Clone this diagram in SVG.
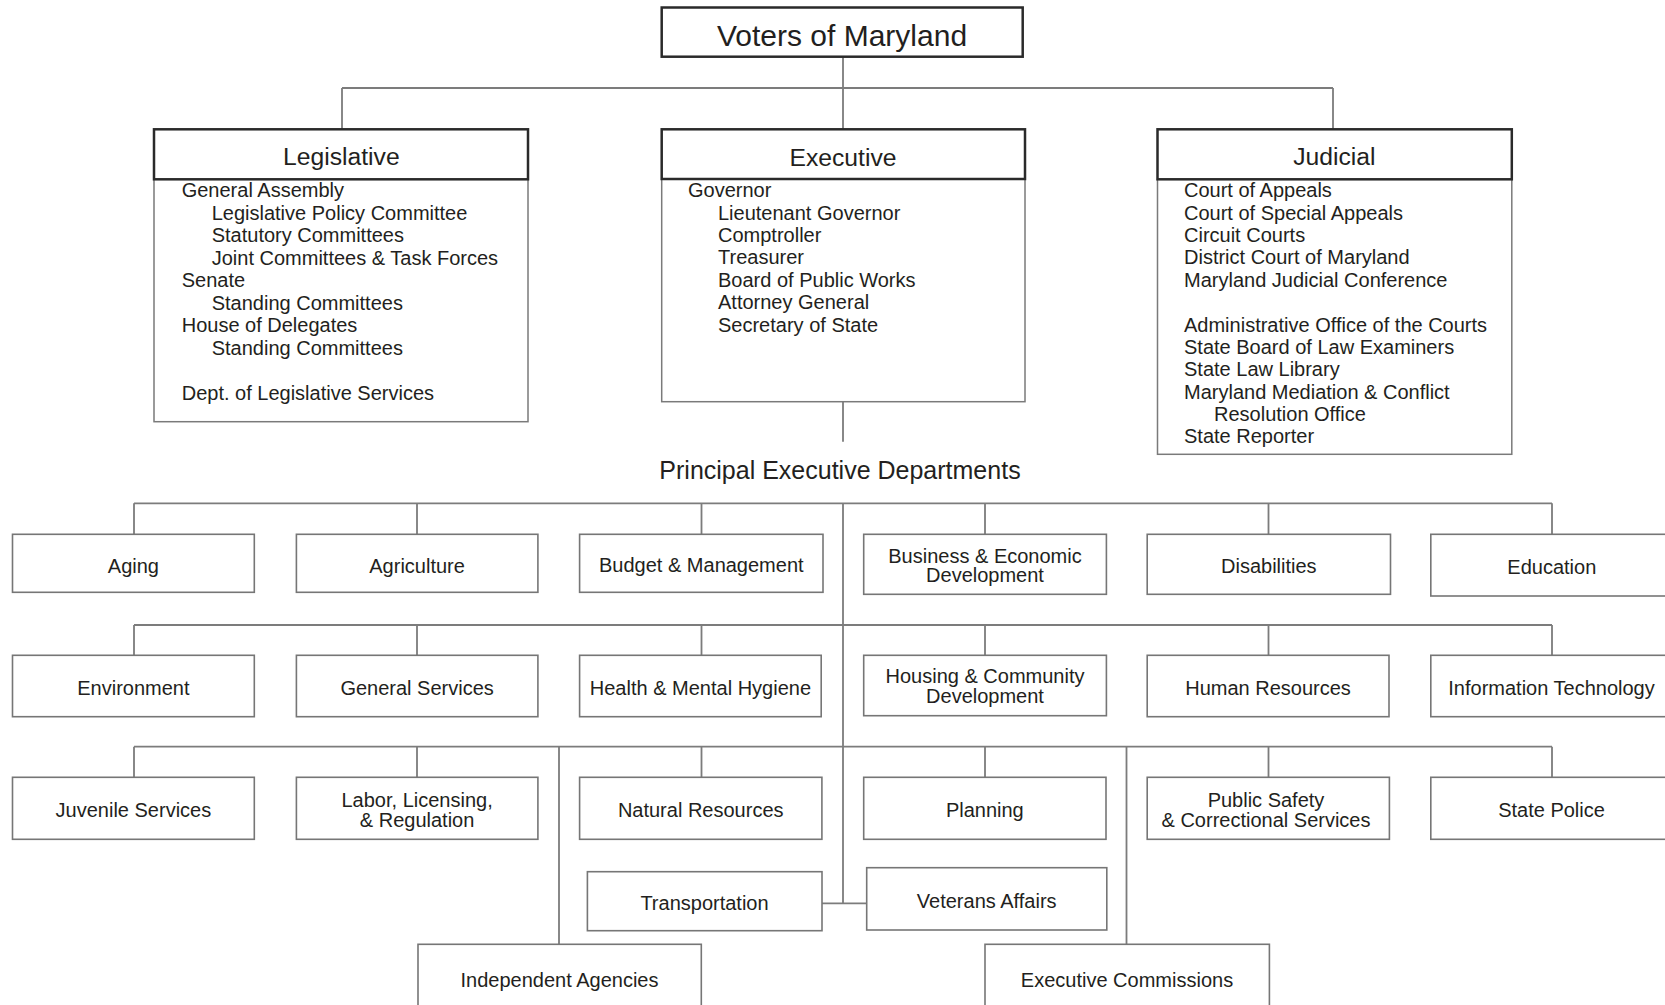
<svg xmlns="http://www.w3.org/2000/svg" width="1665" height="1005" viewBox="0 0 1665 1005">
<style>
text{font-family:"Liberation Sans",Arial,sans-serif;fill:#231f20}
.t30{font-size:30px;text-anchor:middle}
.hd{font-size:24.7px;text-anchor:middle}
.pd{font-size:25px;text-anchor:middle}
.ls{font-size:20px}
.dp{font-size:20px;text-anchor:middle}
.hbox{fill:#fff;stroke:#2a2a2a;stroke-width:2.5}
.bbox{fill:#fff;stroke:#7a7a7a;stroke-width:1.5}
.dbox{fill:#fff;stroke:#767676;stroke-width:1.6}
.cn{fill:none;stroke:#7c7c7c;stroke-width:1.8}
</style>
<rect width="1665" height="1005" fill="#fff"/>
<g id="connectors">
<path class="cn" d="M843 56.7V129.3M342 88H1333M342 88V129.3M1333 88V129.3"/>
<path class="cn" d="M843 401.7V441.7M843 503.3V903.3H822M843 903.3H867"/>
<path class="cn" d="M134 503.3H1552M134 503.3V534.3M417 503.3V534.3M701.5 503.3V534.3M985 503.3V534.3M1268.5 503.3V534.3M1552 503.3V534.3"/>
<path class="cn" d="M134 625H1552M134 625V655.3M417 625V655.3M701.5 625V655.3M985 625V655.3M1268.5 625V655.3M1552 625V655.3"/>
<path class="cn" d="M134 746.7H1552M134 746.7V777.3M417 746.7V777.3M701.5 746.7V777.3M985 746.7V777.3M1268.5 746.7V777.3M1552 746.7V777.3"/>
<path class="cn" d="M559 746.7V944.3M1126.5 746.7V944.3"/>
</g>
<g id="voters">
<rect class="hbox" x="661.7" y="7.5" width="361" height="49.2"/>
<text class="t30" x="842" y="46">Voters of Maryland</text>
</g>
<g id="legislative">
<rect class="bbox" x="154" y="179.3" width="374" height="242.4"/>
<rect class="hbox" x="154" y="129.3" width="374" height="50"/>
<text class="hd" x="341.3" y="165">Legislative</text>
<text class="ls" x="181.7" y="197.3">General Assembly</text>
<text class="ls" x="211.7" y="219.8">Legislative Policy Committee</text>
<text class="ls" x="211.7" y="242.3">Statutory Committees</text>
<text class="ls" x="211.7" y="264.8">Joint Committees &amp; Task Forces</text>
<text class="ls" x="181.7" y="287.3">Senate</text>
<text class="ls" x="211.7" y="309.8">Standing Committees</text>
<text class="ls" x="181.7" y="332.3">House of Delegates</text>
<text class="ls" x="211.7" y="354.8">Standing Committees</text>
<text class="ls" x="181.7" y="399.8">Dept. of Legislative Services</text>
</g>
<g id="executive">
<rect class="bbox" x="661.7" y="179" width="363.3" height="222.7"/>
<rect class="hbox" x="661.7" y="129.3" width="363.3" height="49.7"/>
<text class="hd" x="843" y="165.5">Executive</text>
<text class="ls" x="688" y="197.3">Governor</text>
<text class="ls" x="718" y="219.7">Lieutenant Governor</text>
<text class="ls" x="718" y="242">Comptroller</text>
<text class="ls" x="718" y="264.4">Treasurer</text>
<text class="ls" x="718" y="286.7">Board of Public Works</text>
<text class="ls" x="718" y="309.1">Attorney General</text>
<text class="ls" x="718" y="331.5">Secretary of State</text>
</g>
<g id="judicial">
<rect class="bbox" x="1157.5" y="179.3" width="354.3" height="275"/>
<rect class="hbox" x="1157.5" y="129.3" width="354.3" height="50"/>
<text class="hd" x="1334.3" y="165">Judicial</text>
<text class="ls" x="1184" y="197.3">Court of Appeals</text>
<text class="ls" x="1184" y="219.7">Court of Special Appeals</text>
<text class="ls" x="1184" y="242">Circuit Courts</text>
<text class="ls" x="1184" y="264.4">District Court of Maryland</text>
<text class="ls" x="1184" y="286.7">Maryland Judicial Conference</text>
<text class="ls" x="1184" y="331.5">Administrative Office of the Courts</text>
<text class="ls" x="1184" y="353.8">State Board of Law Examiners</text>
<text class="ls" x="1184" y="376.2">State Law Library</text>
<text class="ls" x="1184" y="398.5">Maryland Mediation &amp; Conflict</text>
<text class="ls" x="1214" y="420.9">Resolution Office</text>
<text class="ls" x="1184" y="443.3">State Reporter</text>
</g>
<g id="principal-label">
<text class="pd" x="840" y="479.3">Principal Executive Departments</text>
</g>
<g id="aging"><rect class="dbox" x="12.5" y="534.3" width="241.8" height="58"/><text class="dp" x="133.4" y="572.5">Aging</text></g>
<g id="agriculture"><rect class="dbox" x="296.4" y="534.3" width="241.5" height="58"/><text class="dp" x="417.1" y="572.5">Agriculture</text></g>
<g id="budget"><rect class="dbox" x="579.6" y="534.3" width="243.4" height="58"/><text class="dp" x="701.3" y="572">Budget &amp; Management</text></g>
<g id="business"><rect class="dbox" x="863.7" y="534.3" width="242.7" height="60"/><text class="dp" x="985" y="562.7">Business &amp; Economic</text><text class="dp" x="985" y="581.7">Development</text></g>
<g id="disabilities"><rect class="dbox" x="1147.2" y="534.3" width="243.3" height="60"/><text class="dp" x="1268.8" y="573.3">Disabilities</text></g>
<g id="education"><rect class="dbox" x="1430.8" y="534.3" width="242" height="61.7"/><text class="dp" x="1551.8" y="574">Education</text></g>
<g id="environment"><rect class="dbox" x="12.5" y="655.3" width="241.8" height="61.4"/><text class="dp" x="133.4" y="695">Environment</text></g>
<g id="general-services"><rect class="dbox" x="296.4" y="655.3" width="241.5" height="61.4"/><text class="dp" x="417.1" y="695">General Services</text></g>
<g id="health"><rect class="dbox" x="579.6" y="655.3" width="241.6" height="61.4"/><text class="dp" x="700.4" y="695">Health &amp; Mental Hygiene</text></g>
<g id="housing"><rect class="dbox" x="863.7" y="655.3" width="242.7" height="60.4"/><text class="dp" x="985" y="683.3">Housing &amp; Community</text><text class="dp" x="985" y="702.7">Development</text></g>
<g id="human-resources"><rect class="dbox" x="1147.2" y="655.3" width="241.8" height="61.4"/><text class="dp" x="1268" y="695">Human Resources</text></g>
<g id="information-technology"><rect class="dbox" x="1430.8" y="655.3" width="242" height="61.4"/><text class="dp" x="1551.5" y="695">Information Technology</text></g>
<g id="juvenile"><rect class="dbox" x="12.5" y="777.3" width="241.8" height="62"/><text class="dp" x="133.4" y="816.7">Juvenile Services</text></g>
<g id="labor"><rect class="dbox" x="296.4" y="777.3" width="241.5" height="62"/><text class="dp" x="417.1" y="806.7">Labor, Licensing,</text><text class="dp" x="417.1" y="826.7">&amp; Regulation</text></g>
<g id="natural-resources"><rect class="dbox" x="579.6" y="777.3" width="242.3" height="62"/><text class="dp" x="700.7" y="816.7">Natural Resources</text></g>
<g id="planning"><rect class="dbox" x="863.7" y="777.3" width="242.3" height="62"/><text class="dp" x="984.8" y="816.7">Planning</text></g>
<g id="public-safety"><rect class="dbox" x="1147.2" y="777.3" width="242.2" height="62"/><text class="dp" x="1266" y="806.7">Public Safety</text><text class="dp" x="1266" y="826.7">&amp; Correctional Services</text></g>
<g id="state-police"><rect class="dbox" x="1430.8" y="777.3" width="242" height="62"/><text class="dp" x="1551.5" y="816.7">State Police</text></g>
<g id="transportation"><rect class="dbox" x="587.4" y="871.7" width="234.6" height="59"/><text class="dp" x="704.5" y="910">Transportation</text></g>
<g id="veterans"><rect class="dbox" x="866.7" y="867.7" width="240.1" height="62.3"/><text class="dp" x="986.7" y="908.3">Veterans Affairs</text></g>
<g id="independent"><rect class="dbox" x="418" y="944.3" width="283.3" height="80"/><text class="dp" x="559.5" y="986.7">Independent Agencies</text></g>
<g id="commissions"><rect class="dbox" x="985" y="944.3" width="284.4" height="80"/><text class="dp" x="1127" y="986.7">Executive Commissions</text></g>
</svg>
